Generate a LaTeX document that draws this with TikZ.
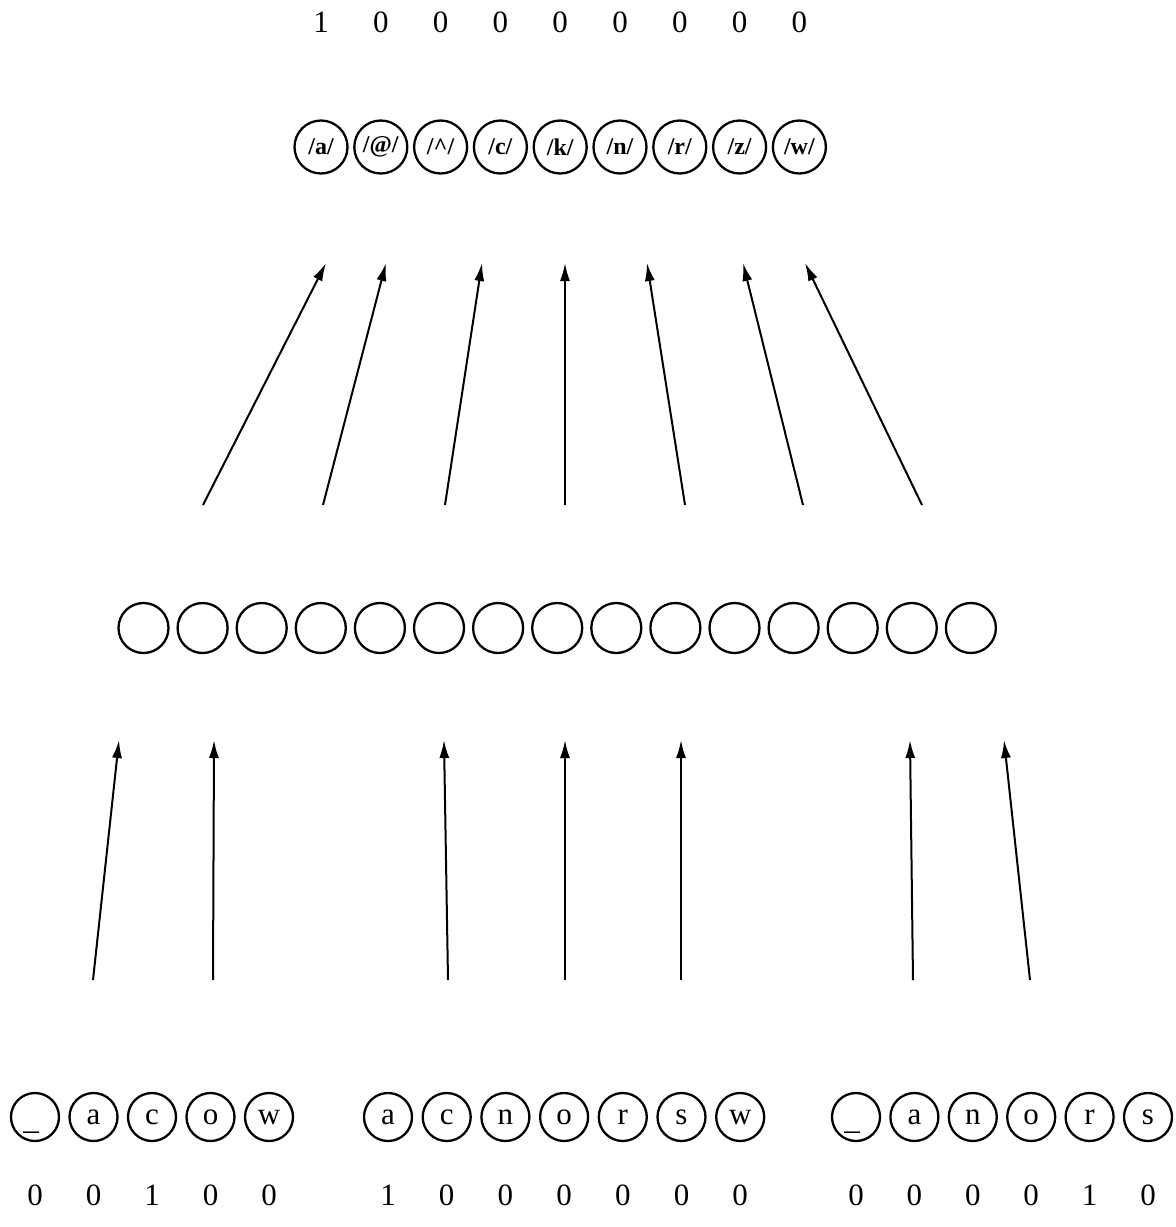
\documentclass[tikz,border=0pt]{standalone}
\usepackage{fontspec}
\setmainfont{Liberation Serif}
\usetikzlibrary{arrows.meta}
\tikzset{
  unit/.style={circle, draw, line width=2.3pt, inner sep=0pt},
  outunit/.style={unit, minimum size=53pt, font=\fontsize{24}{24}\selectfont\bfseries},
  hidunit/.style={unit, minimum size=50pt},
  inunit/.style={unit, minimum size=48pt, font=\fontsize{31}{31}\selectfont, text height=14pt, text depth=0pt},
  bit/.style={inner sep=0pt, font=\fontsize{31}{31}\selectfont},
  conn/.style={line width=2pt, -{Latex[length=18pt,width=10pt]}}
}
\begin{document}
\begin{tikzpicture}[x=1pt,y=-1pt]
\useasboundingbox (0,0) rectangle (1176,1227);
% output bits
\foreach \v [count=\i] in {1,0,0,0,0,0,0,0,0}
  \node[bit] (tn\i) at ({321+59.8*(\i-1)},22) {\v};
% output units
\node[outunit] (o1) at (321,147) {/a/};
\node[outunit] (o2) at (380.8,147) {/@/};
\node[outunit] (o3) at (440.6,147) {/\textasciicircum/};
\node[outunit] (o4) at (500.4,147) {/c/};
\node[outunit] (o5) at (560.2,147) {/k/};
\node[outunit] (o6) at (620,147) {/n/};
\node[outunit] (o7) at (679.8,147) {/r/};
\node[outunit] (o8) at (739.6,147) {/z/};
\node[outunit] (o9) at (799.4,147) {/w/};
% hidden units
\foreach \i in {1,...,15}
  \node[hidunit] (h\i) at ({143.5+59.1*(\i-1)},628) {};
% input group 1
\foreach \t [count=\i] in {{\hspace*{-8pt}\raisebox{-5pt}{\_}},a,c,o,w}
  \node[inunit] (a\i) at ({35+58.5*(\i-1)},1117) {\t};
\foreach \v [count=\i] in {0,0,1,0,0}
  \node[bit] (an\i) at ({35+58.5*(\i-1)},1195) {\v};
% input group 2
\foreach \t [count=\i] in {a,c,n,o,r,s,w}
  \node[inunit] (b\i) at ({388+58.7*(\i-1)},1117) {\t};
\foreach \v [count=\i] in {1,0,0,0,0,0,0}
  \node[bit] (bn\i) at ({388+58.7*(\i-1)},1195) {\v};
% input group 3
\foreach \t [count=\i] in {{\hspace*{-8pt}\raisebox{-5pt}{\_}},a,n,o,r,s}
  \node[inunit] (c\i) at ({856+58.4*(\i-1)},1117) {\t};
\foreach \v [count=\i] in {0,0,0,0,1,0}
  \node[bit] (cn\i) at ({856+58.4*(\i-1)},1195) {\v};
% upper connectors (hidden -> output)
\coordinate (ut1) at (203,505);  \coordinate (uh1) at (326,263);
\coordinate (ut2) at (323,505);  \coordinate (uh2) at (386,263);
\coordinate (ut3) at (445,505);  \coordinate (uh3) at (482,263);
\coordinate (ut4) at (565,505);  \coordinate (uh4) at (565,263);
\coordinate (ut5) at (685,505);  \coordinate (uh5) at (647,263);
\coordinate (ut6) at (803,505);  \coordinate (uh6) at (743,263);
\coordinate (ut7) at (922,505);  \coordinate (uh7) at (805,263);
\foreach \i in {1,...,7}
  \draw[conn] (ut\i) -- (uh\i);
% lower connectors (input -> hidden)
\coordinate (lt1) at (93,980);   \coordinate (lh1) at (119,740);
\coordinate (lt2) at (213,980);  \coordinate (lh2) at (214,740);
\coordinate (lt3) at (448,980);  \coordinate (lh3) at (444,740);
\coordinate (lt4) at (565,980);  \coordinate (lh4) at (565,740);
\coordinate (lt5) at (681,980);  \coordinate (lh5) at (681,740);
\coordinate (lt6) at (913,980);  \coordinate (lh6) at (910,740);
\coordinate (lt7) at (1030,980); \coordinate (lh7) at (1004,740);
\foreach \i in {1,...,7}
  \draw[conn] (lt\i) -- (lh\i);
\end{tikzpicture}
\end{document}
